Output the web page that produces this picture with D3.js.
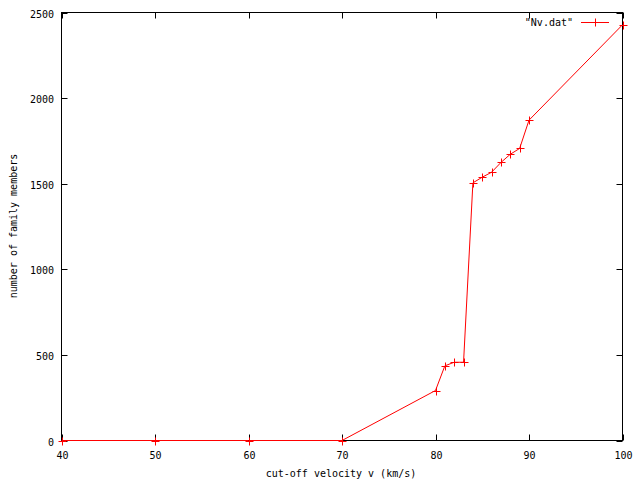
<!DOCTYPE html>
<html><head><meta charset="utf-8">
<script src="https://cdn.jsdelivr.net/npm/d3@7"></script>
<style>body{margin:0;background:#fff}svg{display:block}text{font-family:"DejaVu Sans Mono",monospace;font-size:10px}</style>
</head><body>
<svg id="c" width="640" height="480"></svg>
<script>
const velocities = [40,50,60,70,80,81,82,83,84,85,86,87,88,89,90,100];
const members = [0,0,0,0,292,436,457,457,1505,1538,1567,1624,1672,1706,1871,2428];
const xTicks = [40,50,60,70,80,90,100];
const yTicks = [0,500,1000,1500,2000,2500];
const seriesLabel = '"Nv.dat"';
const xLabel = "cut-off velocity v (km/s)";
const yLabel = "number of family members";

const svg = d3.select("#c");
const L=61.5,R=622.5,T=12.5,B=440.5;
const x = d3.scaleLinear().domain([40,100]).range([L,R]);
const y = d3.scaleLinear().domain([0,2500]).range([B,T]);
const tk=6;

svg.append("rect").attr("x",L).attr("y",T).attr("width",R-L).attr("height",B-T)
  .attr("fill","none").attr("stroke","#000").attr("stroke-width",1);

const g = svg.append("g").attr("stroke","#000").attr("stroke-width",1);
xTicks.forEach(v=>{
  const px=Math.round(x(v))+0.5;
  g.append("line").attr("x1",px).attr("x2",px).attr("y1",B).attr("y2",B-tk);
  g.append("line").attr("x1",px).attr("x2",px).attr("y1",T).attr("y2",T+tk);
  svg.append("text").attr("x",px).attr("y",B+18).attr("text-anchor","middle").text(v);
});
yTicks.forEach(v=>{
  const py=Math.round(y(v))+0.5;
  g.append("line").attr("x1",L).attr("x2",L+tk).attr("y1",py).attr("y2",py);
  g.append("line").attr("x1",R).attr("x2",R-tk).attr("y1",py).attr("y2",py);
  svg.append("text").attr("x",54).attr("y",py+4).attr("text-anchor","end").text(v);
});

svg.append("text").attr("x",341).attr("y",477).attr("text-anchor","middle").text(xLabel);
svg.append("text").attr("transform","translate(17,226) rotate(-90)").attr("text-anchor","middle").text(yLabel);

const data = velocities.map((v,i)=>[v,members[i]]);
svg.append("path").datum(data)
  .attr("d",d3.line().x(d=>x(d[0])).y(d=>y(d[1])))
  .attr("fill","none").attr("stroke","#f00").attr("stroke-width",1);

const cs=4;
function plus(cx,cy){
  svg.append("line").attr("x1",cx-cs).attr("x2",cx+cs).attr("y1",cy).attr("y2",cy).attr("stroke","#f00");
  svg.append("line").attr("x1",cx).attr("x2",cx).attr("y1",cy-cs).attr("y2",cy+cs).attr("stroke","#f00");
}
data.forEach(d=>plus(Math.round(x(d[0]))+0.5,Math.round(y(d[1]))+0.5));

svg.append("text").attr("x",573).attr("y",26).attr("text-anchor","end").text(seriesLabel);
svg.append("line").attr("x1",581).attr("x2",609).attr("y1",22.5).attr("y2",22.5).attr("stroke","#f00");
plus(595.5,22.5);
</script>
</body></html>
